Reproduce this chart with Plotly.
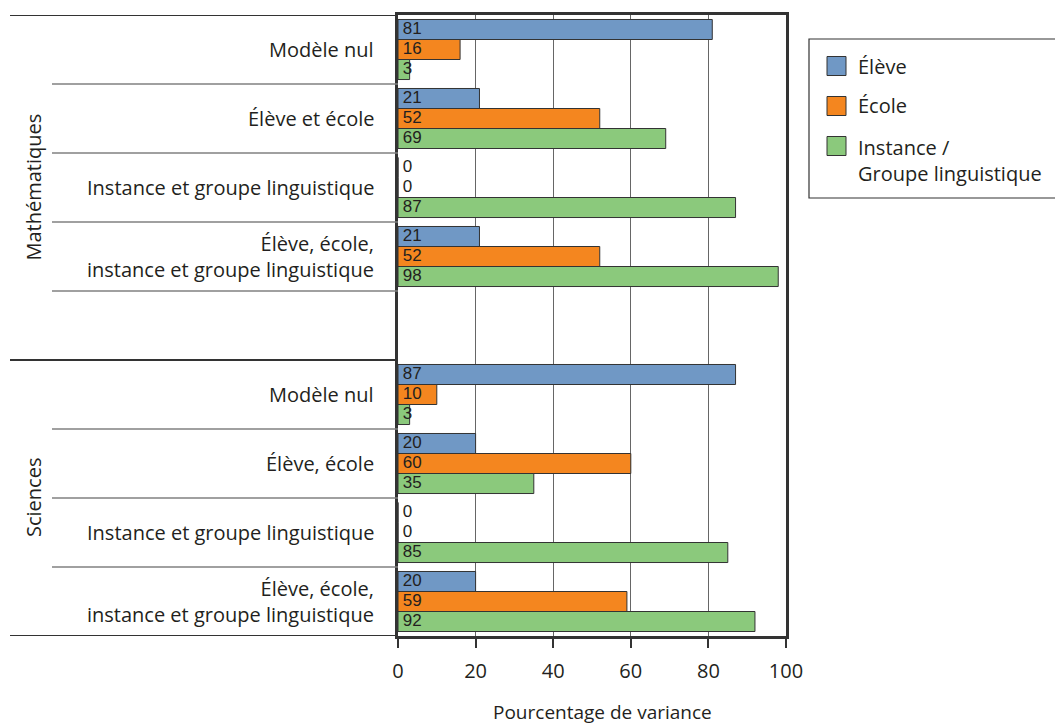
import plotly.graph_objects as go

# Row labels (top to bottom) and group membership
math_rows = ["Modèle nul", "Élève et école", "Instance et groupe linguistique",
             "Élève, école,<br>instance et groupe linguistique"]
sci_rows = ["Modèle nul", "Élève, école", "Instance et groupe linguistique",
            "Élève, école,<br>instance et groupe linguistique"]
groups = ["Mathématiques", "Sciences"]

series_names = ["Élève", "École", "Instance /<br>Groupe linguistique"]
eleve = [81, 21, 0, 21, 87, 20, 0, 20]
ecole = [16, 52, 0, 52, 10, 60, 0, 59]
instance = [3, 69, 87, 98, 3, 35, 85, 92]

colors = ["#7098c5", "#f4861f", "#8bc97c"]
text_color = "#231f20"
font_family = "Open Sans, Noto Sans, sans-serif"
value_font = "Liberation Sans, Arial, sans-serif"

# slot positions: 4 maths rows, one empty slot, 4 science rows
slots = [0, 1, 2, 3, 5, 6, 7, 8]
labels = math_rows + sci_rows

W, H = 1055, 727
L, R, T, B = 398, 269, 15, 91
plot_w = W - L - R
plot_h = H - T - B


def px_x(px):
    return (px - L) / plot_w


def px_y(py):
    return (H - B - py) / plot_h


bargap = 0.13
bar_w = (1 - bargap) / 3

fig = go.Figure()
annotations = []
shapes = []

for i, (name, vals) in enumerate(zip(series_names, [eleve, ecole, instance])):
    fig.add_trace(go.Bar(
        y=slots, x=vals, orientation="h", name=name,
        marker=dict(color=colors[i], line=dict(color="#333333", width=1)),
        showlegend=False, hoverinfo="x",
    ))
    # value labels pinned to the left edge of each bar
    offset = (i - 1) * bar_w
    fig.add_trace(go.Scatter(
        x=[0] * len(vals), y=[s + offset for s in slots],
        text=[str(v) for v in vals], texttemplate=" %{text}", mode="text",
        textposition="middle right",
        textfont=dict(family=value_font, size=17, color=text_color),
        showlegend=False, hoverinfo="skip", cliponaxis=False,
    ))

# row labels
for s, lab in zip(slots, labels):
    annotations.append(dict(
        x=0, xref="paper", y=s, yref="y", text=lab, showarrow=False,
        xanchor="right", yanchor="middle", align="right", xshift=-22,
        font=dict(family=font_family, size=20, color=text_color),
    ))

# group labels
for g, yc in zip(groups, [2, 6.5]):
    annotations.append(dict(
        x=px_x(33), xref="paper", y=yc, yref="y", text=g, showarrow=False,
        textangle=-90, xanchor="center", yanchor="middle",
        font=dict(family=font_family, size=20, color=text_color),
    ))

# separators in the label column
for yb in [-0.5, 4.5, 8.5]:
    shapes.append(dict(type="line", xref="paper", yref="y",
                       x0=px_x(10), x1=0, y0=yb, y1=yb,
                       line=dict(color="#333333", width=2)))
for yb in [0.5, 1.5, 2.5, 3.5, 5.5, 6.5, 7.5]:
    shapes.append(dict(type="line", xref="paper", yref="y",
                       x0=px_x(52), x1=0, y0=yb, y1=yb,
                       line=dict(color="#808080", width=1.5)))

# axis title
annotations.append(dict(
    x=px_x(602), xref="paper", y=px_y(712), yref="paper",
    text="Pourcentage de variance", showarrow=False,
    xanchor="center", yanchor="middle",
    font=dict(family=font_family, size=19, color=text_color),
))

# legend box
shapes.append(dict(type="rect", xref="paper", yref="paper",
                   x0=px_x(809), x1=px_x(1062), y0=px_y(39), y1=px_y(198),
                   line=dict(color="#333333", width=1.2), fillcolor="white"))
for i, (name, cy) in enumerate(zip(series_names, [66, 106, 146])):
    shapes.append(dict(type="rect", xref="paper", yref="paper",
                       x0=px_x(827), x1=px_x(846), y0=px_y(cy - 9.5), y1=px_y(cy + 9.5),
                       line=dict(color="#333333", width=1), fillcolor=colors[i]))
    annotations.append(dict(
        x=px_x(856), xref="paper", y=px_y(cy), yref="paper", text=name,
        showarrow=False, xanchor="left", yanchor="top" if i == 2 else "middle",
        yshift=14 if i == 2 else 0, align="left",
        font=dict(family=font_family, size=20, color=text_color),
    ))

fig.update_layout(
    width=W, height=H,
    margin=dict(l=L, r=R, t=T, b=B, pad=0),
    paper_bgcolor="white", plot_bgcolor="white",
    barmode="group", bargap=bargap, bargroupgap=0,
    annotations=annotations, shapes=shapes,
    showlegend=False,
    xaxis=dict(range=[0, 100], dtick=20, showgrid=True, gridcolor="#666666",
               gridwidth=1, zeroline=False, showline=True, mirror=True,
               linecolor="#333333", linewidth=2.5, ticks="outside",
               ticklen=9, tickwidth=1.5, tickcolor="#333333",
               ticklabelstandoff=6,
               tickfont=dict(family=font_family, size=20, color=text_color)),
    yaxis=dict(range=[8.5, -0.5], showgrid=False, zeroline=False,
               showticklabels=False, showline=True, mirror=True,
               linecolor="#333333", linewidth=2.5, ticks=""),
)

fig.write_html("out.html")
